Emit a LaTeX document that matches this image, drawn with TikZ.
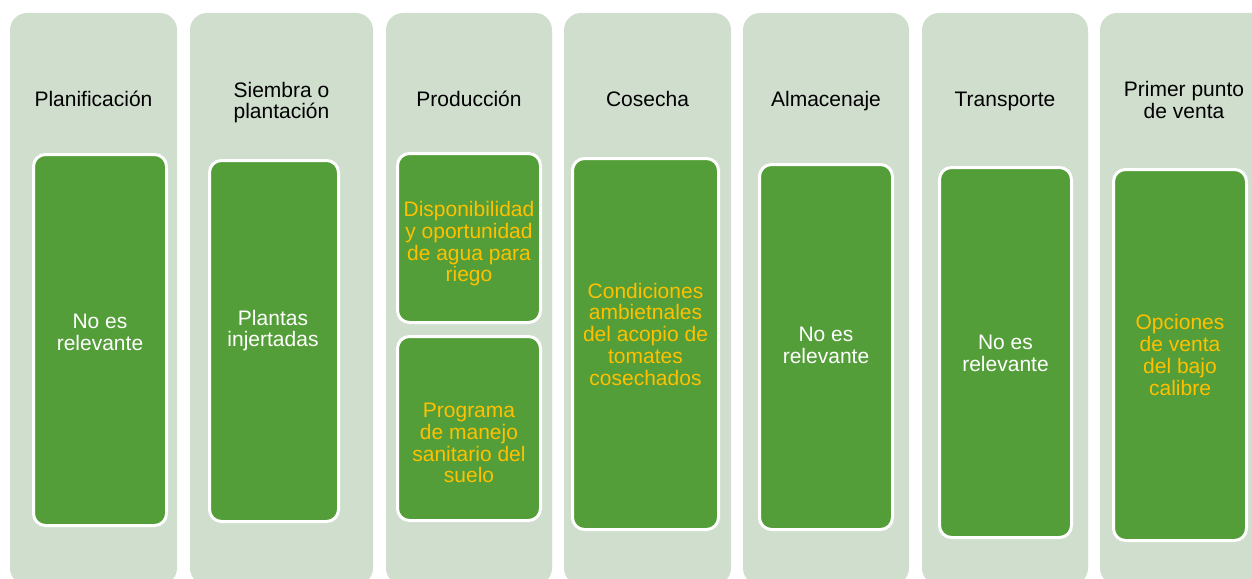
\documentclass[tikz,border=0pt]{standalone}
\usepackage{fontspec}
\setmainfont{Liberation Sans}
\definecolor{colbg}{HTML}{D0DECE}
\definecolor{boxgreen}{HTML}{549E39}
\definecolor{txtyellow}{HTML}{FFC000}
\begin{document}
\begin{tikzpicture}[x=1pt,y=-1pt,
  colbox/.style={fill=colbg,draw=none,rounded corners=17pt},
  greenbox/.style={fill=boxgreen,draw=white,line width=3pt,rounded corners=12pt},
  hdr/.style={anchor=base,align=center,inner sep=0pt,text=black,font=\fontsize{21}{21.7}\selectfont},
  wtxt/.style={anchor=base,align=center,inner sep=0pt,text=white,font=\fontsize{21}{21.7}\selectfont},
  ytxt/.style={anchor=base,align=center,inner sep=0pt,text=txtyellow,font=\fontsize{21}{21.7}\selectfont}]
\useasboundingbox (0,0) rectangle (1252,578);
\fill[white] (0,0) rectangle (1252,578);
% columns
\path[colbox] (10,13) rectangle (177,585);
\path[colbox] (190,13) rectangle (373,585);
\path[colbox] (386,13) rectangle (552,585);
\path[colbox] (564,13) rectangle (731,585);
\path[colbox] (743,13) rectangle (909,585);
\path[colbox] (922,13) rectangle (1088,585);
\path[colbox] (1100,13) rectangle (1268,585);
% headers (anchor = baseline of last line)
\node[hdr] (h1) at (93.5,106) {Planificación};
\node[hdr] (h2) at (281.5,118.7) {Siembra o\\plantación};
\node[hdr] (h3) at (469,106) {Producción};
\node[hdr] (h4) at (647.5,106) {Cosecha};
\node[hdr] (h5) at (826,106) {Almacenaje};
\node[hdr] (h6) at (1005,106) {Transporte};
\node[hdr] (h7) at (1184,118.3) {Primer punto\\de venta};
% inner boxes
\path[greenbox] (33.5,154.5) rectangle (166.5,525.5);
\path[greenbox] (209.5,160.5) rectangle (338.5,521.5);
\path[greenbox] (397.5,153.5) rectangle (540.5,322.5);
\path[greenbox] (397.5,336.5) rectangle (540.5,520.5);
\path[greenbox] (572.5,158.5) rectangle (718.5,529.5);
\path[greenbox] (759.5,164.5) rectangle (892.5,529.5);
\path[greenbox] (939.5,167.5) rectangle (1071.5,537.5);
\path[greenbox] (1113.5,169.5) rectangle (1246.5,540.5);
% inner texts
\node[wtxt] (t1) at (100,350) {No es\\relevante};
\node[wtxt] (t2) at (273,346.7) {Plantas\\injertadas};
\node[ytxt] (t3a) at (469,281.7) {Disponibilidad\\y oportunidad\\de agua para\\riego};
\node[ytxt] (t3b) at (469,482.7) {Programa\\de manejo\\sanitario del\\suelo};
\node[ytxt] (t4) at (645.5,385) {Condiciones\\ambietnales\\del acopio de\\tomates\\cosechados};
\node[wtxt] (t5) at (826,363.3) {No es\\relevante};
\node[wtxt] (t6) at (1005.5,371) {No es\\relevante};
\node[ytxt] (t7) at (1180,395) {Opciones\\de venta\\del bajo\\calibre};
\end{tikzpicture}
\end{document}
